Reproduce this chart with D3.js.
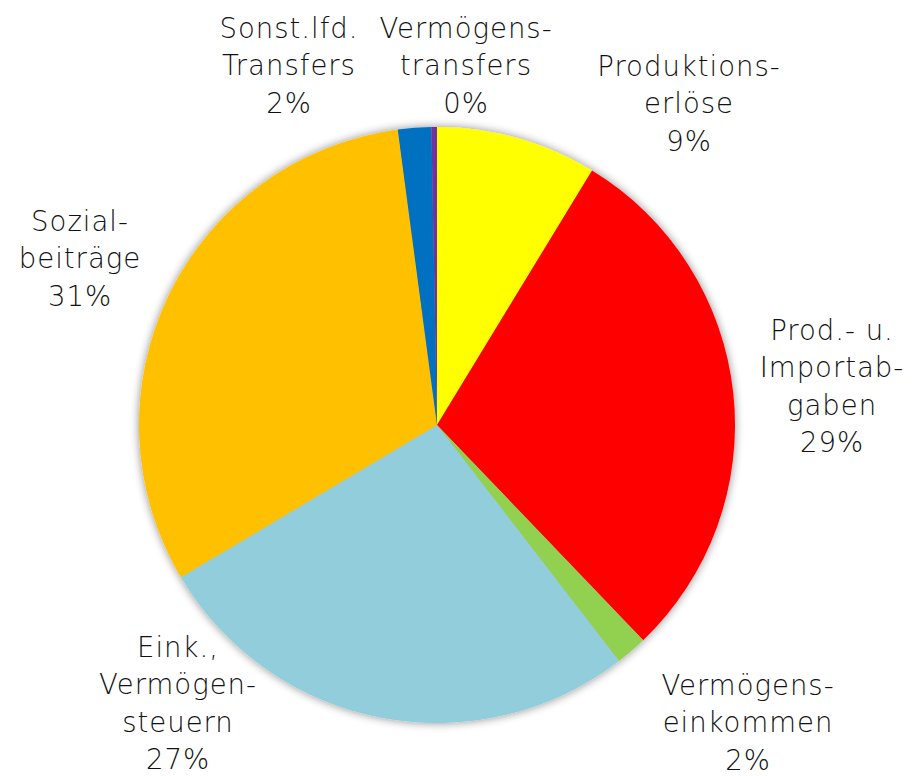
<!DOCTYPE html>
<html><head><meta charset="utf-8">
<script src="https://cdn.jsdelivr.net/npm/d3@7"></script>
<style>body{margin:0;background:#fff}</style>
</head><body>
<svg id="c" width="917" height="776"></svg>
<script>
const categories = ["Produktionserlöse","Prod.- u. Importabgaben","Vermögenseinkommen","Eink., Vermögensteuern","Sozialbeiträge","Sonst.lfd. Transfers","Vermögenstransfers"];
const values = [8.7, 29.1, 1.7, 26.9, 31.4, 1.8, 0.3];
const colors = ["#FFFF00","#FF0000","#92D050","#92CDDC","#FFC000","#0070C0","#7030A0"];
const labelLines = [
  ["Produktions-","erlöse","9%"],
  ["Prod.- u.","Importab-","gaben","29%"],
  ["Vermögens-","einkommen","2%"],
  ["Eink.,","Vermögen-","steuern","27%"],
  ["Sozial-","beiträge","31%"],
  ["Sonst.lfd.","Transfers","2%"],
  ["Vermögens-","transfers","0%"]
];
// label anchor positions (center x, first baseline y)
const labelPos = [[689,76],[832,340],[748,695],[178,657],[80,231],[289,38],[466,38]];

const svg = d3.select("#c");
const cx = 437, cy = 425, r = 298;
const defs = svg.append("defs");
const f = defs.append("filter").attr("id","sh").attr("x","-20%").attr("y","-20%").attr("width","140%").attr("height","140%");
f.append("feGaussianBlur").attr("in","SourceAlpha").attr("stdDeviation",5).attr("result","b");
f.append("feComponentTransfer").attr("in","b").attr("result","b2").append("feFuncA").attr("type","linear").attr("slope",0.45);
const m = f.append("feMerge"); m.append("feMergeNode").attr("in","b2"); m.append("feMergeNode").attr("in","SourceGraphic");

const pie = d3.pie().sort(null).value(d=>d)(values);
const arc = d3.arc().innerRadius(0).outerRadius(r);
const g = svg.append("g").attr("transform",`translate(${cx},${cy})`).attr("filter","url(#sh)");
g.selectAll("path").data(pie).join("path").attr("d",arc).attr("fill",(d,i)=>colors[i]);

const lh = 37.4;
labelLines.forEach((lines,i)=>{
  const t = svg.append("text").attr("text-anchor","middle")
    .attr("font-family","'DejaVu Sans', sans-serif").attr("font-weight",300)
    .attr("font-size",27.5).attr("letter-spacing",1).attr("fill","#111");
  lines.forEach((s,j)=>t.append("tspan").attr("x",labelPos[i][0]).attr("y",labelPos[i][1]+j*lh).text(s));
});
</script>
</body></html>
